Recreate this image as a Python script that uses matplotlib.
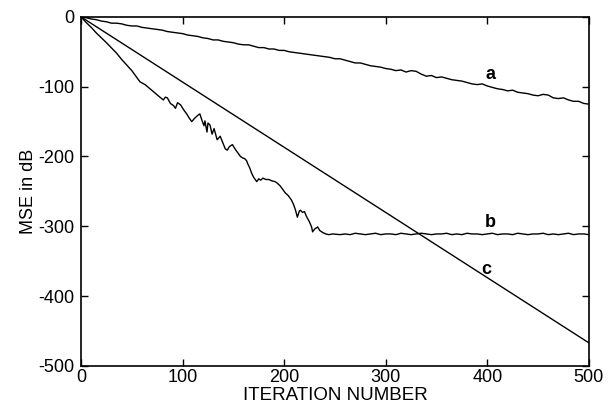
import matplotlib
matplotlib.use("Agg")
import matplotlib.pyplot as plt

plt.rcParams['font.family'] = ['Liberation Sans', 'DejaVu Sans']
plt.rcParams['axes.unicode_minus'] = False

# Curve a (slow convergence), sampled every 5 iterations
a_iter = list(range(0, 505, 5))
a_mse = [0, -1, -3, -4, -6, -7, -9, -9, -10, -12, -13, -13, -15, -16, -17, -18, -19, -21, -22, -23,
         -24, -26, -27, -28, -30, -31, -33, -33, -35, -36, -37, -39, -40, -40, -42, -44, -44, -46, -46, -48,
         -48, -50, -51, -52, -53, -54, -55, -56, -57, -58, -60, -60, -62, -64, -66, -66, -68, -70, -71, -72,
         -74, -75, -77, -76, -79, -77, -78, -82, -85, -84, -87, -86, -88, -90, -91, -92, -94, -96, -97, -96,
         -99, -101, -103, -104, -106, -105, -108, -109, -110, -112, -113, -111, -112, -116, -117, -116, -119, -121, -121, -124,
         -125]

# Curve b (fast, noisy, then floor)
b_iter_head = [0, 5, 10, 15, 20, 25, 29, 35, 40, 45, 50, 55, 58, 63, 68, 72, 76, 81, 83, 85, 88, 91, 93, 95,
               98, 101, 104, 107, 109, 112, 115, 117, 119, 121, 122, 124, 125, 127, 129, 131, 134, 137, 140, 142,
               144, 146, 149, 152, 155, 157, 159, 161, 163, 164, 166, 168, 170, 173, 175, 177, 179, 182, 185, 188,
               191, 193, 196, 198, 201, 204, 207, 209, 211, 213, 215, 216, 218, 220, 222, 225, 227, 228, 230, 233,
               235, 238, 241, 244, 248]
b_mse_head = [0, -8, -15, -23, -30, -37, -43, -52, -61, -69, -77, -87, -93, -97, -103, -108, -113, -119, -115, -116,
              -124, -127, -131, -123, -126, -133, -139, -146, -150, -145, -141, -139, -148, -156, -149, -165, -152, -155,
              -168, -160, -176, -171, -182, -189, -191, -186, -183, -190, -196, -200, -202, -203, -206, -210, -216, -224,
              -230, -236, -232, -234, -231, -233, -233, -235, -236, -238, -242, -246, -252, -256, -262, -268, -276, -287,
              -278, -277, -280, -279, -286, -294, -301, -308, -304, -301, -306, -309, -311, -312, -311]
b_iter_tail = list(range(255, 505, 5))
b_mse_tail = [-312, -311, -312, -310, -311, -312, -311, -310, -312, -311,
              -311, -312, -310, -311, -312, -311, -310, -311, -312, -311,
              -311, -310, -312, -311, -312, -310, -311, -311, -312, -311,
              -310, -312, -311, -311, -312, -310, -311, -312, -311, -311,
              -310, -312, -311, -312, -311, -310, -312, -311, -311, -312]
b_iter = b_iter_head + b_iter_tail
b_mse = b_mse_head + b_mse_tail

# Curve c (straight line)
c_iter = [0, 500]
c_mse = [0, -467]

labels = ['a', 'b', 'c']
label_pos_x = [403, 403, 399]
label_pos_y = [-83, -294, -362]

x_ticks = [0, 100, 200, 300, 400, 500]
y_ticks = [0, -100, -200, -300, -400, -500]

fig = plt.figure(figsize=(6.14, 4.12), dpi=100)
ax = fig.add_axes([0.132, 0.112, 0.827, 0.847])

for xs, ys in [(a_iter, a_mse), (b_iter, b_mse), (c_iter, c_mse)]:
    ax.plot(xs, ys, color='black', linewidth=1.0)

for t, x, y in zip(labels, label_pos_x, label_pos_y):
    ax.text(x, y, t, fontsize=13, fontweight='bold', ha='center', va='center')

ax.set_xlim(0, 500)
ax.set_ylim(-500, 0)
ax.set_xticks(x_ticks)
ax.set_yticks(y_ticks)
ax.tick_params(direction='in', top=True, right=True, labelsize=13, length=5, width=1)
ax.tick_params(axis='x', pad=2)
ax.tick_params(axis='y', pad=5)
for s in ax.spines.values():
    s.set_linewidth(1.2)
ax.set_xlabel('ITERATION NUMBER', fontsize=13.5, labelpad=1)
ax.set_ylabel('MSE in dB', fontsize=13, labelpad=1)

fig.savefig('out.png', dpi=100)
